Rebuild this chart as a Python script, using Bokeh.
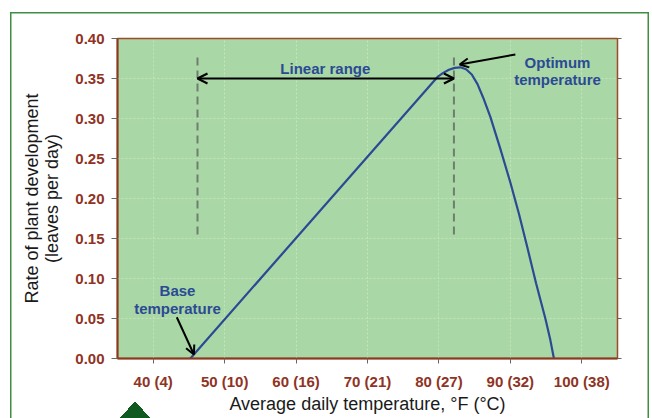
from bokeh.plotting import figure
from bokeh.models import Range1d, LinearAxis, FixedTicker, Arrow, OpenHead, PrintfTickFormatter
from bokeh.core.properties import value
from bokeh.embed import file_html
from bokeh.resources import INLINE

# ---- data ----
temp_f = [45.2, 79.8, 80.6, 81.4, 82.2, 83.0, 83.8, 84.6, 85.4, 86.2, 87.2,
          88.6, 90.0, 91.2, 92.4, 93.6, 94.9, 95.6, 96.1]
rate = [0.0, 0.352, 0.357, 0.361, 0.3633, 0.364, 0.3615, 0.355, 0.343, 0.326, 0.302,
        0.262, 0.220, 0.181, 0.138, 0.094, 0.050, 0.023, 0.0]

x_ticks = [40, 50, 60, 70, 80, 90, 100]
x_tick_labels = ["40 (4)", "50 (10)", "60 (16)", "70 (21)", "80 (27)", "90 (32)", "100 (38)"]
y_ticks = [0.0, 0.05, 0.10, 0.15, 0.20, 0.25, 0.30, 0.35, 0.40]

base_temp = 46.2          # start of linear range (dashed line)
opt_temp = 82.1           # end of linear range (dashed line)
dash_y = [0.155, 0.38]
linear_range_y = 0.35

label_texts = ["Linear range", "Optimum", "temperature", "Base", "temperature"]
label_x = [64.1, 96.6, 96.6, 43.4, 43.4]
label_y = [0.3625, 0.3705, 0.349, 0.085, 0.0625]

opt_arrow = dict(x_start=90.7, y_start=0.380, x_end=82.9, y_end=0.3675)
base_arrow = dict(x_start=43.3, y_start=0.0516, x_end=45.7, y_end=0.005)

BLUE = "#2c4a94"
BROWN = "#8f3324"
FONT = "Liberation Sans"
FRAME_GREEN = "#3f8f43"
TRI_GREEN = "#0f5a1f"

p = figure(width=652, height=418, x_range=Range1d(35, 105), y_range=Range1d(0, 0.40),
           output_backend="svg", toolbar_location=None,
           min_border_left=117, min_border_top=38, min_border_right=35, min_border_bottom=60)

p.background_fill_color = "#a9d7a6"
p.border_fill_color = None
p.outline_line_color = "#a04a2a"
p.outline_line_width = 1.5

# page frame (top/left/right thin green rule) and the small dark triangle at lower left
p.styles = {
    "box-shadow": ("inset 0 12px 0 0 #ffffff, inset 10px 0 0 0 #ffffff, "
                   "inset -3px 0 0 0 #ffffff, "
                   f"inset 0 13.5px 0 0 {FRAME_GREEN}, inset 11.5px 0 0 0 {FRAME_GREEN}, "
                   f"inset -4.5px 0 0 0 {FRAME_GREEN}"),
    "background-image": (f"linear-gradient(to top left, {TRI_GREEN} 50%, transparent 50%), "
                         f"linear-gradient(to top right, {TRI_GREEN} 50%, transparent 50%)"),
    "background-size": "15px 17px, 15px 17px",
    "background-position": "120px 401px, 135px 401px",
    "background-repeat": "no-repeat",
}

# grid
p.xgrid.ticker = FixedTicker(ticks=x_ticks)
p.ygrid.ticker = FixedTicker(ticks=y_ticks)
p.grid.grid_line_color = "#c2e5bd"
p.grid.grid_line_dash = "2 2"
p.grid.grid_line_width = 1

# x axis
xa = p.xaxis[0]
xa.ticker = FixedTicker(ticks=x_ticks)
xa.major_label_overrides = {t: l for t, l in zip(x_ticks, x_tick_labels)}
xa.axis_line_color = "#8b3a1e"
xa.axis_line_width = 2
xa.major_tick_out = 5
xa.major_tick_in = 0
xa.minor_tick_out = 0
xa.minor_tick_in = 0
xa.major_tick_line_color = "#666666"
xa.major_label_text_font = FONT
xa.major_label_text_font_style = "bold"
xa.major_label_text_font_size = "15px"
xa.major_label_text_color = BROWN
xa.major_label_standoff = 9
xa.axis_label = "Average daily temperature, °F (°C)"
xa.axis_label_text_font = FONT
xa.axis_label_text_font_style = "normal"
xa.axis_label_text_font_size = "18px"
xa.axis_label_text_color = "#1a1a1a"
xa.axis_label_standoff = 1

# y axis
ya = p.yaxis[0]
ya.ticker = FixedTicker(ticks=y_ticks)
ya.formatter = PrintfTickFormatter(format="%.2f")
ya.axis_line_color = "#8b3a1e"
ya.axis_line_width = 2
ya.major_tick_out = 6
ya.major_tick_in = 0
ya.minor_tick_out = 0
ya.minor_tick_in = 0
ya.major_tick_line_color = "#666666"
ya.major_label_text_font = FONT
ya.major_label_text_font_style = "bold"
ya.major_label_text_font_size = "15px"
ya.major_label_text_color = BROWN
ya.major_label_standoff = 7
ya.axis_label = "Rate of plant development\n(leaves per day)"
ya.axis_label_text_font = FONT
ya.axis_label_text_font_style = "normal"
ya.axis_label_text_font_size = "18px"
ya.axis_label_text_line_height = 1.0
ya.axis_label_text_color = "#1a1a1a"
ya.axis_label_standoff = 10

# right axis (tick marks only)
ra = LinearAxis(ticker=FixedTicker(ticks=y_ticks))
ra.axis_line_color = None
ra.major_tick_out = 4
ra.major_tick_in = 0
ra.minor_tick_out = 0
ra.minor_tick_in = 0
ra.major_tick_line_color = "#666666"
ra.major_label_overrides = {t: "" for t in y_ticks}
ra.major_label_standoff = 0
p.add_layout(ra, "right")

# dashed boundary lines
p.line([base_temp, base_temp], dash_y, line_color="#6f7f6f", line_width=2, line_dash="8 5")
p.line([opt_temp, opt_temp], dash_y, line_color="#6f7f6f", line_width=2, line_dash="8 5")

# curve
p.line(temp_f, rate, line_color=BLUE, line_width=2.2)

# arrows
p.add_layout(Arrow(x_start=base_temp, y_start=linear_range_y, x_end=opt_temp, y_end=linear_range_y,
                   line_color="black", line_width=2.2,
                   start=OpenHead(size=10, line_width=2.2, line_color="black"),
                   end=OpenHead(size=10, line_width=2.2, line_color="black")))
p.add_layout(Arrow(**opt_arrow, line_color="black", line_width=2,
                   end=OpenHead(size=9, line_width=2, line_color="black")))
p.add_layout(Arrow(**base_arrow, line_color="black", line_width=2,
                   end=OpenHead(size=9, line_width=2, line_color="black")))

# labels
p.text(label_x, label_y, text=label_texts, text_font=value(FONT), text_font_style="bold",
       text_font_size="15px", text_color=BLUE, text_align="center", text_baseline="middle")

open("out.html", "w").write(file_html(p, INLINE))
